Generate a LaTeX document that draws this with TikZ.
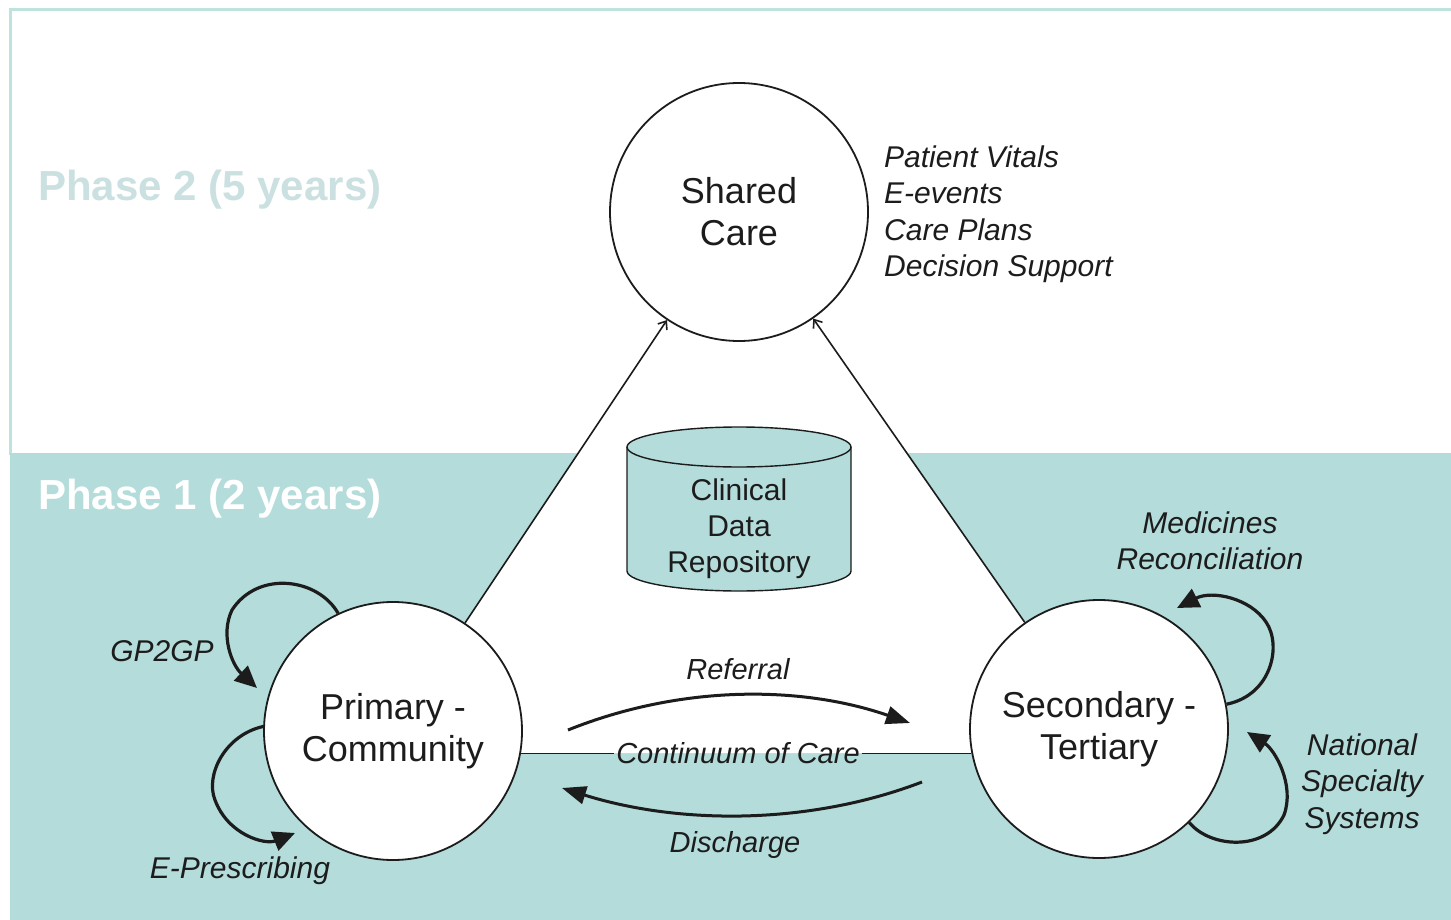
\documentclass[tikz,border=0pt]{standalone}
\usepackage{fontspec}
\setmainfont{Liberation Sans}
\usetikzlibrary{arrows.meta}
\definecolor{tealbg}{RGB}{179,220,218}
\definecolor{framecol}{RGB}{190,226,222}
\definecolor{phasetwo}{RGB}{203,224,224}
\definecolor{ink}{RGB}{28,28,28}
\tikzset{
  circ/.style={circle, draw=ink, line width=1.8pt, fill=white, minimum size=258pt, inner sep=0pt,
    align=center, text=ink, font=\fontsize{36}{42}\selectfont},
  lab/.style={text=ink, inner sep=2pt, font=\itshape\fontsize{30}{36.5}\selectfont},
  flowlab/.style={text=ink, inner sep=2pt, font=\itshape\fontsize{29}{35}\selectfont},
  phaselab/.style={anchor=west, inner sep=0pt, font=\bfseries\fontsize{42}{48}\selectfont},
  looparrow/.style={draw=ink, line width=3.2pt, -{Triangle[length=22pt,width=20pt]}},
  flowarrow/.style={draw=ink, line width=3pt, -{Triangle[length=24pt,width=18pt]}},
  diagarrow/.style={draw=ink, line width=1.6pt, -{Straight Barb[length=7pt,width=11pt]}},
}
\begin{document}
\begin{tikzpicture}[x=1pt,y=-1pt]
\useasboundingbox (0,0) rectangle (1451,920);
\fill[white] (0,0) rectangle (1451,920);
\draw[framecol, line width=3pt] (10,455) -- (10,10) -- (1451,10);
\fill[tealbg] (10,453) rectangle (1451,920);
% white triangle between the three circles
\fill[white] (739,212) -- (378.3,753) -- (1115.7,753) -- cycle;

\node[phaselab, text=phasetwo] (ph2) at (38,190) {Phase 2 (5 years)};
\node[phaselab, text=white] (ph1) at (38,499) {Phase 1 (2 years)};

% database cylinder
\draw[ink, line width=1.4pt, fill=tealbg] (627,447) -- (627,571)
  arc[start angle=180, end angle=360, x radius=112pt, y radius=20pt] -- (851,447);
\draw[ink, line width=1.4pt, fill=tealbg] (739,447) ellipse[x radius=112pt, y radius=20pt];
\node[align=center, text=ink, font=\fontsize{30}{36}\selectfont] (cdr) at (739,529)
  {Clinical\\Data\\Repository};

% circles
\node[circ] (shared) at (739,212) {Shared\\Care};
\node[circ] (prim) at (393,731) {Primary -\\Community};
\node[circ] (sec) at (1099,729) {Secondary -\\Tertiary};

% diagonal arrows
\draw[diagarrow] (prim) -- (shared);
\draw[diagarrow] (sec) -- (shared);

% continuum of care
\node[flowlab] (cont) at (738,753) {Continuum of Care};
\draw[ink, line width=1.8pt] (prim.-10) -- (prim.-10 -| cont.west);
\draw[ink, line width=1.8pt] (cont.east |- prim.-10) -- (sec.-170 |- prim.-10);

% referral / discharge
\node[flowlab] (ref) at (738,669) {Referral};
\node[flowlab] (dis) at (735,845) {Discharge};
\coordinate (refs) at (568,730);
\coordinate (refe) at (910,723);
\coordinate (diss) at (922,782);
\coordinate (dise) at (562,788);
\draw[flowarrow] (refs) .. controls (680,685) and (800,685) .. (refe);
\draw[flowarrow] (diss) .. controls (810,825) and (680,825) .. (dise);

% side information
\node[lab, anchor=west, align=left] (info) at (882,214)
  {Patient Vitals\\E-events\\Care Plans\\Decision Support};

% loops and their labels
\node[lab] (gp) at (162,651) {GP2GP};
\node[lab] (ep) at (240,871) {E-Prescribing};
\node[lab, align=center] (med) at (1210,541) {Medicines\\Reconciliation};
\node[lab, align=center] (nat) at (1362,784) {National\\Specialty\\Systems};

\coordinate (gpe) at (257,688);
\coordinate (epe) at (295,833);
\coordinate (mede) at (1177,608);
\coordinate (nate) at (1247,732);
\draw[looparrow] (prim.115) .. controls (318,578) and (258,570) .. (232,610)
  .. controls (220,635) and (232,665) .. (gpe);
\draw[looparrow] (prim.178) .. controls (225,735) and (205,775) .. (215,800)
  .. controls (228,835) and (265,845) .. (epe);
\draw[looparrow] (sec.11) .. controls (1272,695) and (1282,645) .. (1266,622)
  .. controls (1250,598) and (1212,590) .. (mede);
\draw[looparrow] (sec.-46) .. controls (1210,848) and (1266,852) .. (1284,815)
  .. controls (1295,785) and (1275,750) .. (nate);
\end{tikzpicture}
\end{document}
